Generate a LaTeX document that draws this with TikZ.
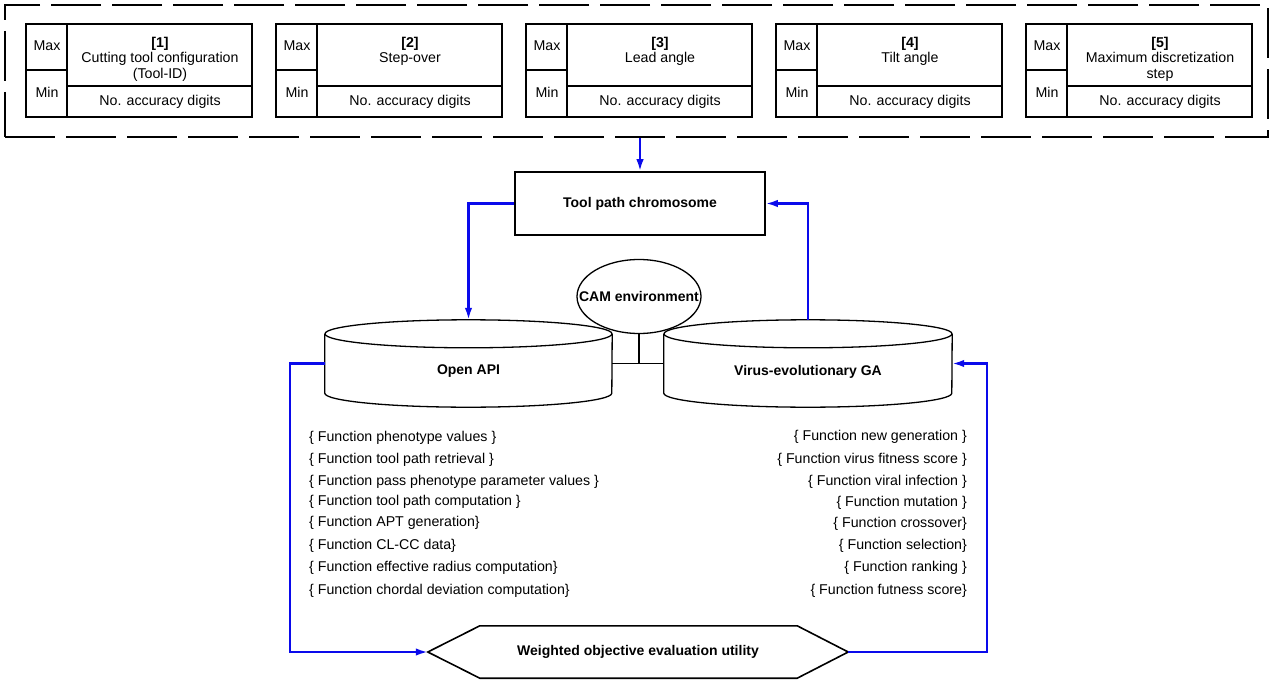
\documentclass[tikz,border=0pt]{standalone}
\usepackage{fontspec}
\setmainfont{Liberation Sans}
\usetikzlibrary{arrows.meta,calc}
\definecolor{cblue}{RGB}{10,10,235}
\begin{document}
\begin{tikzpicture}[x=1pt,y=-1pt,
  txt/.style={font=\fontsize{14.2}{15.5}\selectfont, inner sep=0pt},
  btxt/.style={font=\fontsize{14}{15}\selectfont\bfseries, inner sep=0pt},
  bline/.style={draw=black, line width=1.6pt},
  cyl/.style={draw=black, line width=1.3pt},
  conn/.style={draw=cblue, line width=2.2pt},
  arr/.style={conn, -{Latex[length=12pt,width=7.5pt]}},
  ftl/.style={txt, anchor=west},
  ftr/.style={txt, anchor=east},
]
\useasboundingbox (0,0) rectangle (1274,682);

% dashed parameter frame
\node[draw, dash pattern=on 50pt off 11pt, line width=1.8pt, minimum width=1263pt,
      minimum height=132pt, inner sep=0pt] (params) at (636.5,71) {};

% parameter boxes
\foreach \i/\ttl in {1/{\textbf{[1]}\\Cutting tool configuration\\(Tool-ID)},
                     2/{\textbf{[2]}\\Step-over},
                     3/{\textbf{[3]}\\Lead angle},
                     4/{\textbf{[4]}\\Tilt angle},
                     5/{\textbf{[5]}\\Maximum discretization\\step}}{
  \pgfmathsetmacro{\xo}{26+250*(\i-1)}
  \node[bline, minimum width=226pt, minimum height=93pt, inner sep=0pt] (b\i) at (\xo+113,70.5) {};
  \draw[bline] ($(b\i.north west)+(42,0)$) -- ($(b\i.south west)+(42,0)$);
  \draw[bline] (\xo,70) -- (\xo+42,70);
  \draw[bline] (\xo+42,86) -- (\xo+226,86);
  \node[txt] (max\i) at (\xo+21,46) {Max};
  \node[txt] (min\i) at (\xo+21,92) {Min};
  \node[txt, anchor=north, align=center] (ttl\i) at (\xo+134,37) {\ttl};
  \node[txt] (acc\i) at (\xo+134,101.5) {No. accuracy digits};
}

% tool path chromosome
\node[bline, btxt, minimum width=250pt, minimum height=63pt] (tpc) at (640,203.5) {Tool path chromosome};

% cylinders
\node[minimum width=287pt, minimum height=59pt, inner sep=0pt] (api) at (468.5,363.5) {};
\node[minimum width=288pt, minimum height=59pt, inner sep=0pt] (vga) at (808,363.5) {};
\draw[cyl] (api.north west) -- (api.south west)
   arc[start angle=180, end angle=360, x radius=143.5pt, y radius=14pt] -- (api.north east);
\draw[cyl] (api.north) ellipse[x radius=143.5pt, y radius=14pt];
\draw[cyl] (vga.north west) -- (vga.south west)
   arc[start angle=180, end angle=360, x radius=144pt, y radius=14pt] -- (vga.north east);
\draw[cyl] (vga.north) ellipse[x radius=144pt, y radius=14pt];
\node[btxt] (apit) at (468.5,371.5) {Open API};
\node[btxt] (vgat) at (808,371.5) {Virus-evolutionary GA};
\coordinate (apitop) at ($(api.north)+(0,-14)$);
\coordinate (vgatop) at ($(vga.north)+(0,-14)$);

% CAM environment
\node[btxt, minimum width=124pt, minimum height=74pt] (cam) at (639,296.5) {};
\draw[cyl, fill=white] (cam.center) ellipse[x radius=62pt, y radius=37pt];
\node[btxt] (camt) at (cam.center) {CAM environment};
\draw[cyl] (cam.south) -- (cam.south |- api.east);
\draw[cyl] (api.east) -- (vga.west);

% evaluation utility hexagon
\node[btxt, minimum width=420pt, minimum height=52pt] (ev) at (638,652) {Weighted objective evaluation utility};
\draw[bline] (ev.west) -- ($(ev.north west)+(52,0)$) -- ($(ev.north east)+(-51,0)$) -- (ev.east)
   -- ($(ev.south east)+(-51,0)$) -- ($(ev.south west)+(52,0)$) -- cycle;

% connectors
\draw[arr] (params.south -| tpc.north) -- (tpc.north);
\draw[arr] (tpc.west) -| (apitop);
\draw[arr] (vgatop) |- (tpc.east);
\draw[arr] (api.west) -- ++(-35,0) |- (ev.west);
\draw[arr] (ev.east) -- ++(139,0) |- (vga.east);

% function lists
\node[ftl] (l1) at (309,437.5) {\{ Function phenotype values \}};
\node[ftl] (l2) at (309,460) {\{ Function tool path retrieval \}};
\node[ftl] (l3) at (309,481.5) {\{ Function pass phenotype parameter values \}};
\node[ftl] (l4) at (309,502) {\{ Function tool path computation \}};
\node[ftl] (l5) at (309,522.5) {\{ Function APT generation\}};
\node[ftl] (l6) at (309,546) {\{ Function CL-CC data\}};
\node[ftl] (l7) at (309,568) {\{ Function effective radius computation\}};
\node[ftl] (l8) at (309,591) {\{ Function chordal deviation computation\}};

\node[ftr] (r1) at (967,436.5) {\{ Function new generation \}};
\node[ftr] (r2) at (967,460) {\{ Function virus fitness score \}};
\node[ftr] (r3) at (967,481.5) {\{ Function viral infection \}};
\node[ftr] (r4) at (967,502.5) {\{ Function mutation \}};
\node[ftr] (r5) at (967,523.5) {\{ Function crossover\}};
\node[ftr] (r6) at (967,546) {\{ Function selection\}};
\node[ftr] (r7) at (967,568) {\{ Function ranking \}};
\node[ftr] (r8) at (967,591) {\{ Function futness score\}};
\end{tikzpicture}
\end{document}
